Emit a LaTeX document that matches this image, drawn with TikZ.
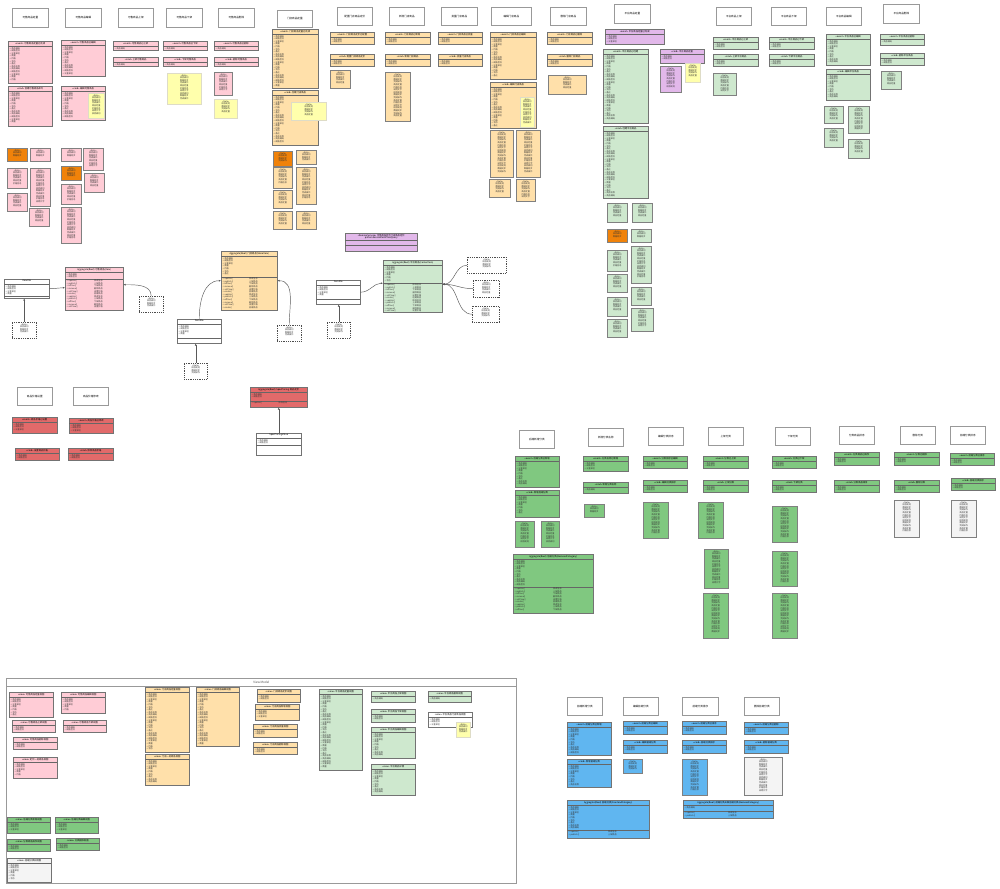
\documentclass[tikz,border=0pt]{standalone}
\usepackage{fontspec}
\setmainfont{Noto Sans CJK SC}
\usetikzlibrary{arrows.meta,shadows}
\definecolor{pinkc}{RGB}{255,204,214}
\definecolor{wheatc}{RGB}{255,224,170}
\definecolor{lgreen}{RGB}{206,232,206}
\definecolor{mgreen}{RGB}{128,200,128}
\definecolor{bluec}{RGB}{96,182,240}
\definecolor{purplec}{RGB}{226,184,234}
\definecolor{redc}{RGB}{226,106,106}
\definecolor{orangec}{RGB}{240,130,10}
\definecolor{yellowc}{RGB}{255,255,172}
\definecolor{grayn}{RGB}{244,244,244}
\newcount\ncnt \newcount\kcnt \newcount\mcnt \newcount\tcnt
\newcommand\itm{\ifcase\kcnt + 商品名称\or + 商品编码\or + 规格型号\or + 计量单位\or + 数量\or + 价格\or + 状态\or + 备注\fi}
\newcommand\mitm{\makebox[0.5\hsize][l]{\ifcase\mcnt + create()\or + update()\or + publish()\or + offline()\or + remove()\or + setPrice()\fi}\ifcase\mcnt 创建商品\or 修改信息\or 上架商品\or 下架商品\or 删除商品\or 设置价格\fi}
\newcommand\titm{\ifcase\tcnt 说明文字\or 校验规则\or 数据同步\or 完成操作\or 商品定量\or 价格信息\fi}
\newcommand\mklines[1]{\ncnt=0 \loop\ifnum\ncnt<#1 \advance\ncnt by 1 \advance\kcnt by 1 \ifnum\kcnt>7 \kcnt=0 \fi\itm\par\repeat}
\newcommand\mkmeth[1]{\ncnt=0 \loop\ifnum\ncnt<#1 \advance\ncnt by 1 \advance\mcnt by 1 \ifnum\mcnt>5 \mcnt=0 \fi\mitm\par\repeat}
\newcommand\mknote[1]{\ncnt=0 \loop\ifnum\ncnt<#1 \advance\ncnt by 1 \advance\tcnt by 1 \ifnum\tcnt>5 \tcnt=0 \fi\titm\par\repeat}
\tikzset{
  hdrbox/.style={draw=black!40,fill=white,line width=0.6pt,inner sep=0pt,font=\fontsize{2.6}{3}\selectfont,
    drop shadow={shadow xshift=0.6pt,shadow yshift=-0.6pt,opacity=0.25}},
  cbox/.style={draw=black!55,line width=0.45pt,inner sep=0pt,
    drop shadow={shadow xshift=0.6pt,shadow yshift=-0.6pt,opacity=0.25}},
  sep/.style={draw=black!60,line width=0.4pt},
  ttl/.style={inner sep=0pt,align=center,font=\fontsize{2.3}{2.7}\selectfont},
  bodytxt/.style={inner sep=0pt,align=left,font=\fontsize{2.1}{2.6}\selectfont,text=black!80},
  nbox/.style={draw=black!50,line width=0.45pt,inner sep=0pt},
  notetxt/.style={inner sep=0pt,align=center,font=\fontsize{2.1}{2.6}\selectfont,text=black!80},
  ynote/.style={fill=yellowc,draw=yellow!40!black!25},
  dnote/.style={fill=white,draw=black!70,dashed,dash pattern=on 1pt off 0.8pt},
  conn/.style={draw=black!65,line width=0.45pt,-{Latex[length=2.2pt,width=2pt]}},
}
\newcommand\hdr[6]{\node[hdrbox,minimum width=#4pt,minimum height=#5pt,anchor=north west] (#1) at (#2,#3) {#6};}
\newcommand\cls[7]{%
  \node[cbox,fill=#6,minimum width=#4pt,minimum height=#5pt,anchor=north west] (#1) at (#2,#3) {};
  \pgfmathsetmacro\tw{#4-3}%
  \node[ttl,text width=\tw pt,anchor=north] (#1-t) at ([yshift=-0.9pt]#1.north) {#7};
  \draw[sep] ([yshift=-5.5pt]#1.north west) -- ([yshift=-5.5pt]#1.north east);
  \pgfmathtruncatemacro\nl{max(0,floor((#5-6.4)/2.6))}%
  \node[bodytxt,text width=\tw pt,anchor=north west] (#1-b) at ([xshift=1.5pt,yshift=-6.2pt]#1.north west) {\mklines{\nl}};
}
\newcommand\acls[9]{%
  \node[cbox,fill=#6,minimum width=#4pt,minimum height=#5pt,anchor=north west] (#1) at (#2,#3) {};
  \pgfmathsetmacro\tw{#4-3}%
  \node[ttl,text width=\tw pt,anchor=north] (#1-t) at ([yshift=-0.9pt]#1.north) {#7};
  \draw[sep] ([yshift=-5.5pt]#1.north west) -- ([yshift=-5.5pt]#1.north east);
  \draw[sep] ([yshift=-#8pt]#1.north west) -- ([yshift=-#8pt]#1.north east);
  \pgfmathtruncatemacro\nl{max(0,floor((#8-6.4)/2.6))}%
  \node[bodytxt,text width=\tw pt,anchor=north west] (#1-b) at ([xshift=1.5pt,yshift=-6.2pt]#1.north west) {\mklines{\nl}};
  \node[bodytxt,text width=\tw pt,anchor=north west] (#1-m) at ([xshift=1.5pt,yshift=-#8pt-0.8pt]#1.north west) {\mkmeth{#9}};
}
\newcommand\nte[6]{%
  \node[nbox,#6,minimum width=#4pt,minimum height=#5pt,anchor=north west] (#1) at (#2,#3) {};
  \pgfmathsetmacro\tw{#4-2}%
  \pgfmathtruncatemacro\nl{max(0,floor((#5-3.5)/2.6)-1)}%
  \node[notetxt,text width=\tw pt,anchor=north] (#1-x) at ([yshift=-1.3pt]#1.north) {«Note»\par\mknote{\nl}};
}
\begin{document}
\begin{tikzpicture}[x=1pt,y=-1pt]
\fill[white] (0,0) rectangle (1000,888);
\useasboundingbox (0,0) rectangle (1000,888);
% ---------------- headers
\hdr{h1}{12}{8}{36}{19}{可售商品定量}
\hdr{h2}{65}{8}{36}{19}{可售商品编辑}
\hdr{h3}{118}{8}{35}{19}{可售商品上架}
\hdr{h4}{166}{8}{36}{19}{可售商品下架}
\hdr{h5}{218}{8}{36}{19}{可售商品删除}
\hdr{h6}{277}{10}{35}{17}{门店商品定量}
\hdr{h7}{337}{7}{35}{18}{配置门店商品定价}
\hdr{h8}{389}{7}{35}{18}{新增门店商品}
\hdr{h9}{441}{7}{36}{18}{批量门店商品}
\hdr{h10}{491}{7}{40}{18}{编辑门店商品}
\hdr{h11}{550}{7}{36}{18}{删除门店商品}
\hdr{h12}{614}{4}{36}{19}{平台商品定量}
\hdr{h13}{716}{7}{35}{18}{平台商品上架}
\hdr{h14}{771}{7}{35}{18}{平台商品下架}
\hdr{h15}{826}{7}{35}{18}{平台商品编辑}
\hdr{h16}{883}{4}{36}{19}{平台商品删除}
\hdr{h17}{17}{387}{35}{18}{商品价格设置}
\hdr{h18}{73}{387}{35}{18}{商品价格修改}
\hdr{h19}{519}{430}{35}{18}{后端新增分类}
\hdr{h20}{588}{428}{35}{18}{新增分类名称}
\hdr{h21}{648}{427}{35}{18}{编辑分类排序}
\hdr{h22}{708}{427}{35}{18}{上架分类}
\hdr{h23}{775}{427}{35}{18}{下架分类}
\hdr{h24}{839}{426}{35}{18}{分类商品排序}
\hdr{h25}{900}{426}{35}{18}{删除分类}
\hdr{h26}{950}{426}{35}{18}{前端分类排序}
\hdr{h27}{567}{697}{35}{18}{前端新增分类}
\hdr{h28}{623}{697}{35}{18}{编辑前端分类}
\hdr{h29}{682}{697}{36}{18}{前端分类排序}
\hdr{h30}{744}{697}{35}{18}{删除前端分类}
% ---------------- pink column group
\cls{p1}{8}{41}{44}{42}{pinkc}{«event» 可售商品定量已完成}
\cls{p2}{8}{86}{44}{40}{pinkc}{«cmd» 创建可售商品命令}
\cls{p3}{61}{40}{44}{36}{pinkc}{«event» 可售商品已编辑}
\cls{p4}{61}{86}{44}{34}{pinkc}{«cmd» 编辑可售商品}
\nte{y1}{88}{93}{16}{25}{ynote}
\cls{p5}{113}{41}{45}{9}{pinkc}{«event» 可售商品已上架}
\cls{p6}{113}{57}{45}{9}{pinkc}{«cmd» 上架可售商品}
\cls{p7}{163}{41}{44}{9}{pinkc}{«event» 可售商品已下架}
\cls{p8}{163}{57}{44}{9}{pinkc}{«cmd» 下架可售商品}
\cls{p9}{214}{41}{44}{9}{pinkc}{«event» 可售商品已删除}
\cls{p10}{214}{57}{44}{9}{pinkc}{«cmd» 删除可售商品}
\nte{pn1}{214}{72}{18}{23}{fill=pinkc}
\nte{y2}{167}{73}{34}{31}{ynote}
\nte{y3}{214}{99}{23}{19}{ynote}
\nte{pn2}{7}{148}{20}{13}{fill=orangec}
\nte{pn3}{30}{148}{20}{13}{fill=pinkc}
\nte{pn4}{7}{168}{20}{20}{fill=pinkc}
\nte{pn5}{30}{168}{20}{38}{fill=pinkc}
\nte{pn6}{7}{193}{20}{18}{fill=pinkc}
\nte{pn7}{29}{208}{20}{18}{fill=pinkc}
\nte{pn8}{61}{148}{20}{13}{fill=pinkc}
\nte{pn9}{83}{148}{20}{22}{fill=pinkc}
\nte{pn10}{61}{166}{20}{14}{fill=orangec}
\nte{pn11}{84}{173}{20}{19}{fill=pinkc}
\nte{pn12}{61}{184}{20}{20}{fill=pinkc}
\nte{pn13}{61}{207}{20}{36}{fill=pinkc}
% ---------------- wheat group
\cls{w1}{272}{29}{46}{59}{wheatc}{«event» 门店商品定量已完成}
\cls{w2}{272}{90}{46}{55}{wheatc}{«cmd» 创建门店商品}
\nte{y4}{291}{102}{35}{18}{ynote}
\nte{wn1}{273}{151}{19}{15}{fill=orangec}
\nte{wn2}{296}{150}{20}{14}{fill=wheatc}
\nte{wn3}{273}{167}{19}{21}{fill=wheatc}
\nte{wn4}{296}{167}{20}{37}{fill=wheatc}
\nte{wn5}{273}{190}{19}{18}{fill=wheatc}
\nte{wn6}{273}{211}{19}{18}{fill=wheatc}
\nte{wn7}{296}{211}{20}{18}{fill=wheatc}
\cls{w3}{330}{32}{44}{12}{wheatc}{«event» 门店商品定价已配置}
\cls{w4}{330}{54}{44}{12}{wheatc}{«cmd» 配置门店商品定价}
\nte{wn8}{330}{70}{20}{18}{fill=wheatc}
\cls{w5}{385}{32}{45}{12}{wheatc}{«event» 门店商品已新增}
\cls{w6}{385}{54}{45}{12}{wheatc}{«cmd» 新增门店商品}
\nte{wn9}{385}{72}{25}{49}{fill=wheatc}
\cls{w7}{438}{32}{44}{12}{wheatc}{«event» 门店商品已批量}
\cls{w8}{438}{54}{44}{12}{wheatc}{«cmd» 批量门店商品}
\cls{w9}{490}{32}{46}{47}{wheatc}{«event» 门店商品已编辑}
\cls{w10}{490}{82}{46}{46}{wheatc}{«cmd» 编辑门店商品}
\nte{y5}{520}{97}{14}{30}{ynote}
\nte{wn10}{490}{130}{23}{47}{fill=wheatc}
\nte{wn11}{516}{130}{24}{47}{fill=wheatc}
\nte{wn12}{489}{179}{21}{18}{fill=wheatc}
\nte{wn13}{516}{179}{19}{22}{fill=wheatc}
\cls{w11}{547}{32}{45}{12}{wheatc}{«event» 门店商品已删除}
\cls{w12}{547}{54}{45}{12}{wheatc}{«cmd» 删除门店商品}
\nte{wn14}{548}{75}{38}{19}{fill=wheatc}
% ---------------- purple / light green top
\cls{pu1}{605}{29}{59}{15}{purplec}{«event» 平台商品定量已完成}
\cls{pu2}{660}{49}{44}{14}{purplec}{«cmd» 平台商品定量}
\nte{pun1}{660}{66}{21}{26}{fill=purplec}
\nte{y6}{685}{63}{15}{19}{ynote}
\cls{g1}{603}{49}{45}{74}{lgreen}{«event» 平台商品已创建}
\cls{g2}{603}{126}{45}{72}{lgreen}{«cmd» 创建平台商品}
\nte{gn1}{607}{203}{20}{19}{fill=lgreen}
\nte{gn2}{632}{203}{20}{19}{fill=lgreen}
\nte{gn3}{607}{229}{20}{13}{fill=orangec}
\nte{gn4}{631}{229}{20}{13}{fill=lgreen}
\nte{gn5}{607}{250}{20}{21}{fill=lgreen}
\nte{gn6}{631}{246}{20}{37}{fill=lgreen}
\nte{gn7}{607}{274}{20}{18}{fill=lgreen}
\nte{gn8}{631}{287}{20}{18}{fill=lgreen}
\nte{gn9}{607}{297}{20}{19}{fill=lgreen}
\nte{gn10}{631}{308}{22}{23}{fill=lgreen}
\nte{gn11}{607}{319}{20}{18}{fill=lgreen}
\cls{g3}{713}{37}{45}{12}{lgreen}{«event» 平台商品已上架}
\cls{g4}{713}{54}{45}{12}{lgreen}{«cmd» 上架平台商品}
\nte{gn12}{713}{73}{23}{22}{fill=lgreen}
\cls{g5}{769}{37}{45}{12}{lgreen}{«event» 平台商品已下架}
\cls{g6}{769}{54}{45}{12}{lgreen}{«cmd» 下架平台商品}
\cls{g7}{826}{34}{44}{31}{lgreen}{«event» 平台商品已编辑}
\cls{g8}{826}{69}{44}{31}{lgreen}{«cmd» 编辑平台商品}
\nte{gn13}{824}{106}{19}{17}{fill=lgreen}
\nte{gn14}{848}{106}{21}{27}{fill=lgreen}
\nte{gn15}{824}{128}{19}{19}{fill=lgreen}
\nte{gn16}{848}{139}{21}{19}{fill=lgreen}
\cls{g9}{880}{34}{44}{11}{lgreen}{«event» 平台商品已删除}
\cls{g10}{880}{53}{44}{12}{lgreen}{«cmd» 删除平台商品}
\nte{gn17}{881}{71}{20}{18}{fill=lgreen}
% ---------------- aggregates and DTOs
\acls{pa}{65}{267}{58}{43}{pinkc}{Aggregate(Root) 可售商品(Item)}{12}{11}
\acls{wa}{221}{251}{56}{59}{wheatc}{Aggregate(Root) 门店商品(StoreItem)}{26}{12}
\acls{ga}{383}{260}{59}{52}{lgreen}{Aggregate(Root) 平台商品(CenterItem)}{23}{11}
\acls{ra}{250}{387}{57}{20}{redc}{Aggregate(Root) SpecPricing 商品定价}{14}{1}
\node[cbox,fill=purplec,minimum width=72pt,minimum height=18pt,anchor=north west] (pua) at (345,233) {};
\node[ttl,text width=70pt,anchor=north] (pua-t) at ([yshift=-0.9pt]pua.north) {«DomainService» 可售商品定价门店商品定价\par patternServiceItemPriceQuery};
\draw[sep] ([yshift=-7pt]pua.north west) -- ([yshift=-7pt]pua.north east);
\draw[sep] ([yshift=-12pt]pua.north west) -- ([yshift=-12pt]pua.north east);
\acls{d1}{4}{279}{45}{19}{white}{ItemDto}{17}{0}
\acls{d2}{177}{319}{44}{24}{white}{ItemDto}{19}{0}
\acls{d3}{316}{280}{44}{24}{white}{ItemDto}{19}{0}
\acls{d4}{256}{433}{45}{22}{white}{SpecPricingValue}{12}{0}
\nte{dn1}{12}{322}{24}{16}{dnote}
\nte{dn2}{139}{296}{24}{16}{dnote}
\nte{dn3}{184}{363}{23}{16}{dnote}
\nte{dn4}{277}{325}{24}{16}{dnote}
\nte{dn5}{327}{322}{23}{16}{dnote}
\nte{dn6}{467}{257}{39}{16}{dnote}
\nte{dn7}{473}{280}{26}{17}{dnote}
\nte{dn8}{472}{306}{27}{16}{dnote}
\draw[conn] (d1.east) to[out=0,in=180] ([yshift=1pt]pa.west);
\draw[conn] (dn1.north) -- (dn1.north |- d1.south);
\draw[conn] (dn2.north) to[out=90,in=0] ([yshift=4pt]pa.east);
\draw[conn] (d2.north) to[out=90,in=180] (wa.west);
\draw[conn] (dn3.north) -- (dn3.north |- d2.south);
\draw[conn] (dn4.north) to[out=90,in=0] (wa.east);
\draw[conn] (d3.east) to[out=0,in=180] ([yshift=3pt]ga.west);
\draw[conn] (dn5.north) -- (dn5.north |- d3.south);
\draw[conn] (dn6.west) to[out=180,in=0] ([yshift=2pt]ga.east);
\draw[conn] (dn7.west) to[out=180,in=0] ([yshift=2pt]ga.east);
\draw[conn] (dn8.west) to[out=180,in=0] ([yshift=2pt]ga.east);
\draw[conn] (d4.north) -- (d4.north |- ra.south);
% ---------------- red group
\cls{r1}{12}{417}{45}{16}{redc}{«event» 商品价格已设置}
\cls{r2}{69}{418}{44}{15}{redc}{«event» 商品价格已修改}
\cls{r3}{15}{448}{44}{12}{redc}{«cmd» 设置商品价格}
\cls{r4}{68}{448}{45}{12}{redc}{«cmd» 修改商品价格}
% ---------------- mid green group
\cls{m1}{515}{456}{44}{31}{mgreen}{«event» 后端分类已新增}
\cls{m2}{515}{490}{44}{27}{mgreen}{«cmd» 新增后端分类}
\nte{mn1}{515}{521}{19}{26}{fill=mgreen}
\nte{mn2}{541}{521}{18}{26}{fill=mgreen}
\acls{ma}{513}{554}{80}{59}{mgreen}{Aggregate(Root) 后端分类(BackendCategory)}{33}{9}
\cls{m3}{583}{456}{45}{15}{mgreen}{«event» 分类名称已新增}
\cls{m4}{583}{482}{45}{11}{mgreen}{«cmd» 新增分类名称}
\nte{mn3}{584}{504}{20}{13}{fill=mgreen}
\cls{m5}{643}{456}{44}{12}{mgreen}{«event» 分类排序已编辑}
\cls{m6}{643}{480}{44}{12}{mgreen}{«cmd» 编辑分类排序}
\nte{mn4}{643}{502}{25}{36}{fill=mgreen}
\cls{m7}{703}{456}{45}{12}{mgreen}{«event» 分类已上架}
\cls{m8}{703}{480}{45}{12}{mgreen}{«cmd» 上架分类}
\nte{mn5}{698}{502}{25}{36}{fill=mgreen}
\nte{mn6}{704}{549}{24}{39}{fill=mgreen}
\nte{mn7}{703}{593}{25}{45}{fill=mgreen}
\cls{m9}{772}{456}{44}{12}{mgreen}{«event» 分类已下架}
\cls{m10}{772}{480}{44}{12}{mgreen}{«cmd» 下架分类}
\nte{mn8}{772}{506}{25}{36}{fill=mgreen}
\nte{mn9}{772}{551}{25}{35}{fill=mgreen}
\nte{mn10}{772}{593}{25}{45}{fill=mgreen}
\cls{m11}{834}{452}{45}{13}{mgreen}{«event» 分类商品已排序}
\cls{m12}{834}{480}{45}{12}{mgreen}{«cmd» 分类商品排序}
\cls{m13}{894}{452}{45}{13}{mgreen}{«event» 分类已删除}
\cls{m14}{894}{480}{45}{12}{mgreen}{«cmd» 删除分类}
\nte{mn11}{894}{500}{25}{37}{fill=grayn}
\cls{m15}{950}{453}{44}{12}{mgreen}{«event» 前端分类已排序}
\cls{m16}{951}{478}{44}{12}{mgreen}{«cmd» 前端分类排序}
\nte{mn12}{951}{500}{25}{37}{fill=grayn}
% ---------------- View Model frame
\node[draw=black!40,line width=0.7pt,minimum width=510pt,minimum height=205pt,inner sep=0pt,anchor=north west] (vm) at (6,678) {};
\draw[draw=black!40,line width=0.6pt] ([yshift=-8pt]vm.north west) -- ([yshift=-8pt]vm.north east);
\node[font=\fontsize{3}{3.5}\selectfont,text=black!70,inner sep=0pt] (vm-t) at ([yshift=-4pt]vm.north) {View Model};
\cls{v1}{9}{692}{44}{25}{pinkc}{«view» 可售商品定量视图}
\cls{v2}{61}{692}{44}{21}{pinkc}{«view» 可售商品编辑视图}
\cls{v3}{12}{720}{43}{12}{pinkc}{«view» 可售商品上架视图}
\cls{v4}{63}{720}{43}{12}{pinkc}{«view» 可售商品下架视图}
\cls{v5}{13}{737}{44}{12}{pinkc}{«view» 可售商品删除视图}
\cls{v6}{13}{757}{44}{21}{pinkc}{«view» 定价一览商品视图}
\cls{v7}{145}{687}{44}{65}{wheatc}{«view» 门店商品定量视图}
\cls{v8}{145}{754}{44}{31}{wheatc}{«view» 门店一览商品视图}
\cls{v9}{196}{687}{43}{59}{wheatc}{«view» 门店商品编辑视图}
\cls{v10}{257}{689}{43}{13}{wheatc}{«view» 门店商品定价视图}
\cls{v11}{255}{704}{44}{16}{wheatc}{«view» 门店商品新增视图}
\cls{v12}{253}{724}{44}{13}{wheatc}{«view» 门店商品批量视图}
\cls{v13}{253}{742}{44}{12}{wheatc}{«view» 门店商品删除视图}
\cls{v14}{319}{689}{43}{81}{lgreen}{«view» 平台商品定量视图}
\cls{v15}{371}{691}{44}{11}{lgreen}{«view» 平台商品上架视图}
\cls{v16}{371}{709}{44}{13}{lgreen}{«view» 平台商品下架视图}
\cls{v17}{371}{727}{44}{31}{lgreen}{«view» 平台商品编辑视图}
\cls{v18}{371}{764}{44}{31}{lgreen}{«view» 平台商品详情}
\cls{v19}{428}{691}{43}{11}{lgreen}{«view» 平台商品删除视图}
\cls{v20}{428}{712}{44}{15}{white}{«view» 平台商品门店商品视图}
\nte{y7}{456}{722}{14}{15}{ynote}
\cls{v21}{7}{817}{43}{16}{mgreen}{«view» 后端分类新增视图}
\cls{v22}{55}{817}{43}{16}{mgreen}{«view» 后端分类编辑视图}
\cls{v23}{7}{839}{43}{12}{mgreen}{«view» 分类商品排序视图}
\cls{v24}{56}{838}{43}{12}{mgreen}{«view» 分类删除视图}
\cls{v25}{7}{858}{44}{24}{grayn}{«view» 后端分类树视图}
% ---------------- blue group
\cls{b1}{567}{722}{44}{33}{bluec}{«event» 前端分类已新增}
\cls{b2}{567}{759}{44}{28}{bluec}{«cmd» 新增前端分类}
\cls{b3}{623}{721}{44}{13}{bluec}{«event» 前端分类已编辑}
\cls{b4}{623}{740}{44}{13}{bluec}{«cmd» 编辑前端分类}
\nte{bn1}{623}{759}{19}{14}{fill=bluec}
\cls{b5}{682}{721}{44}{13}{bluec}{«event» 前端分类已排序}
\cls{b6}{682}{740}{44}{13}{bluec}{«cmd» 前端分类排序}
\nte{bn2}{682}{759}{25}{36}{fill=bluec}
\cls{b7}{744}{722}{44}{12}{bluec}{«event» 前端分类已删除}
\cls{b8}{744}{740}{44}{13}{bluec}{«cmd» 删除前端分类}
\nte{bn3}{744}{757}{38}{38}{fill=grayn}
\acls{ba1}{567}{800}{82}{38}{bluec}{Aggregate(Root) 前端分类(FrontendCategory)}{30}{2}
\acls{ba2}{683}{800}{90}{18}{bluec}{Aggregate(Root) 前端分类关联后端分类(BackendCategory)}{11}{2}
\end{tikzpicture}
\end{document}
